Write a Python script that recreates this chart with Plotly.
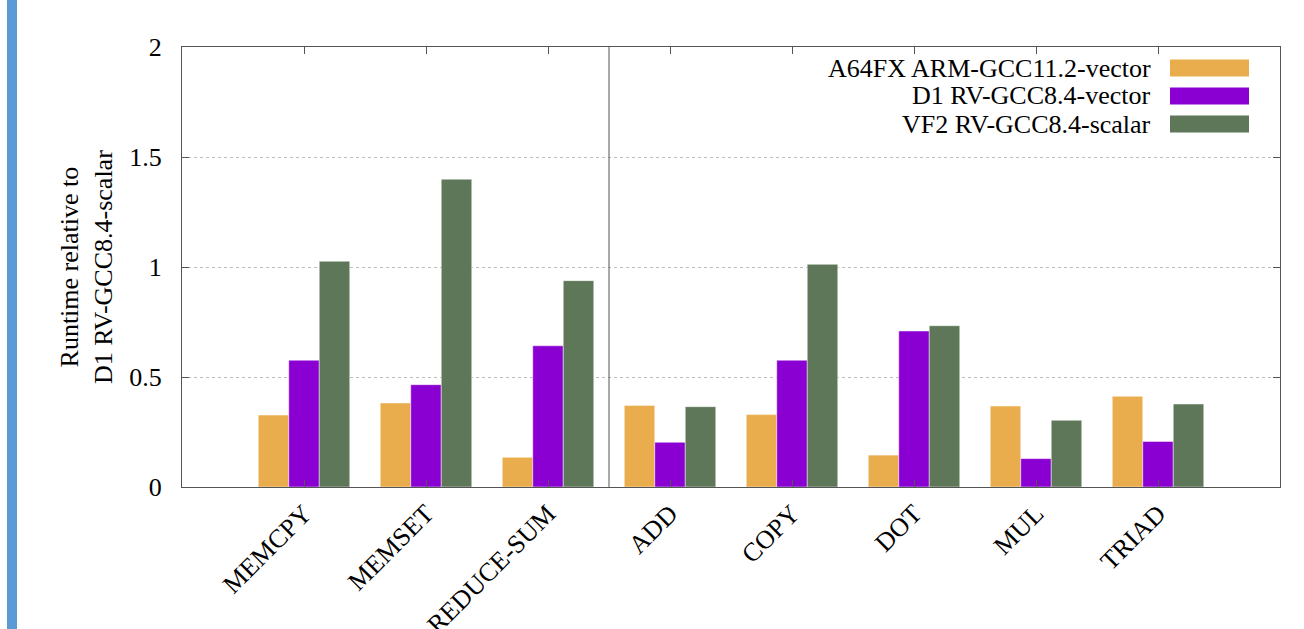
import plotly.graph_objects as go

categories = ["MEMCPY", "MEMSET", "REDUCE-SUM", "ADD", "COPY", "DOT", "MUL", "TRIAD"]
series_names = ["A64FX ARM-GCC11.2-vector", "D1 RV-GCC8.4-vector", "VF2 RV-GCC8.4-scalar"]
a64fx_vector = [0.327, 0.382, 0.135, 0.371, 0.329, 0.145, 0.368, 0.412]
d1_vector = [0.576, 0.465, 0.642, 0.203, 0.576, 0.709, 0.129, 0.207]
vf2_scalar = [1.026, 1.399, 0.938, 0.365, 1.012, 0.733, 0.303, 0.377]
y_ticks = [0, 0.5, 1, 1.5, 2]
y_tick_labels = ["0", "0.5", "1", "1.5", "2"]
y_title = "Runtime relative to<br>D1 RV-GCC8.4-scalar"

colors = ["#EAAD4E", "#8A00D2", "#5F7759"]
FONT = "Liberation Serif"
FS = 26
W, H = 1304, 629
ML, MR, MT, MB = 182, 24, 47, 142
PW, PH = W - ML - MR, H - MT - MB

xpos = list(range(len(categories)))
fig = go.Figure()
for name, vals, col in zip(series_names, [a64fx_vector, d1_vector, vf2_scalar], colors):
    fig.add_trace(go.Bar(x=xpos, y=vals, name=name,
                         marker=dict(color=col, line=dict(color="rgba(255,255,255,0.45)", width=1)),
                         showlegend=False))

# divider between memory and stream kernels
fig.add_shape(type="line", x0=2.5, x1=2.5, y0=0, y1=2, xref="x", yref="y",
              line=dict(color="#555555", width=1))


def px_to_paper_x(px):
    return (px - ML) / PW


def py_to_paper_y(py):
    return (MT + PH - py) / PH


# custom legend: right aligned text, swatch on the right
rows = [68, 96, 124]
for name, col, py in zip(series_names, colors, rows):
    fig.add_annotation(text=name, x=px_to_paper_x(1153), y=py_to_paper_y(py), xref="paper", yref="paper",
                       xanchor="right", yanchor="middle", showarrow=False,
                       font=dict(family=FONT, size=FS, color="black"))
    fig.add_shape(type="rect", xref="paper", yref="paper", x0=px_to_paper_x(1170), x1=px_to_paper_x(1249),
                  y0=py_to_paper_y(py + 8.5), y1=py_to_paper_y(py - 8.5), fillcolor=col, line=dict(width=0))

# y axis title
fig.add_annotation(text=y_title, x=px_to_paper_x(86), y=py_to_paper_y(267), xref="paper", yref="paper",
                   xanchor="center", yanchor="middle", showarrow=False, textangle=-90,
                   font=dict(family=FONT, size=FS, color="black"))

# blue side bar
fig.add_shape(type="rect", xref="paper", yref="paper", x0=px_to_paper_x(7), x1=px_to_paper_x(17),
              y0=py_to_paper_y(H), y1=py_to_paper_y(0), fillcolor="#5B9BD5", line=dict(width=0))

fig.update_layout(
    width=W, height=H,
    margin=dict(l=ML, r=MR, t=MT, b=MB, autoexpand=False),
    paper_bgcolor="white", plot_bgcolor="white",
    barmode="group", bargap=0.25, bargroupgap=0,
    font=dict(family=FONT, size=FS, color="black"),
)
fig.update_xaxes(
    range=[-1, 8], tickvals=xpos, ticktext=categories, tickangle=-45, automargin=False,
    showline=True, linecolor="#555555", linewidth=1, mirror="ticks",
    ticks="inside", ticklen=7, tickcolor="#555555", showgrid=False, zeroline=False,
    tickfont=dict(family=FONT, size=FS, color="black"),
)
fig.update_yaxes(
    range=[0, 2], tickvals=y_ticks, ticktext=y_tick_labels, automargin=False,
    showline=True, linecolor="#555555", linewidth=1, mirror="ticks",
    ticks="inside", ticklen=7, tickcolor="#555555",
    showgrid=True, gridcolor="#BBBBBB", griddash="dot", gridwidth=1, zeroline=False,
    ticklabelstandoff=14,
    tickfont=dict(family=FONT, size=FS, color="black"),
)
fig.write_html("out.html", config={"displayModeBar": False},
               post_script="document.body.style.margin='0';document.body.style.overflow='hidden';")
